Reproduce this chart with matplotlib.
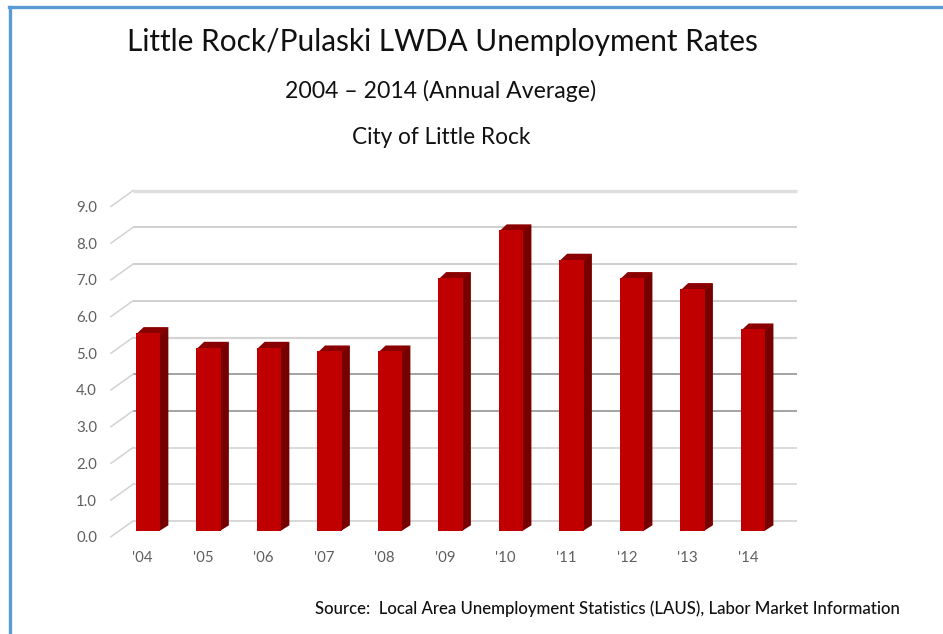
import matplotlib
matplotlib.use('Agg')
import matplotlib.pyplot as plt
from matplotlib.lines import Line2D

plt.rcParams['font.family'] = ['Lato', 'DejaVu Sans']

years = ["'04", "'05", "'06", "'07", "'08", "'09", "'10", "'11", "'12", "'13", "'14"]
rates = [5.4, 5.0, 5.0, 4.9, 4.9, 6.9, 8.2, 7.4, 6.9, 6.6, 5.5]
y_ticks = [0, 1, 2, 3, 4, 5, 6, 7, 8, 9]
grid_colors = ['#d6d6d6', '#d9d9d9', '#d9d9d9', '#9c9c9c', '#9c9c9c',
               '#d4d4d4', '#cfcfcf', '#cfcfcf', '#cfcfcf', '#dedede']
grid_widths = [1.3, 1.3, 1.3, 1.3, 1.3, 1.6, 1.4, 1.4, 1.4, 2.4]

W, H = 943, 634
fig = plt.figure(figsize=(W / 100, H / 100), dpi=100)
fig.patch.set_facecolor('white')

# front edge of the floor sits at y=536.7px, 36.7px per unit, 60.5px per category
ax = fig.add_axes([111 / W, (H - 536.7) / H, 664 / W, 330.3 / H])
ax.set_xlim(-0.524, 10.45)
ax.set_ylim(0, 9)
ax.patch.set_alpha(0)
for s in ax.spines.values():
    s.set_visible(False)

px_x = 1 / 60.5
px_y = 1 / 36.7

# oblique depth of the floor/back wall
depth_x = 22 * px_x
depth_y = 15.7 * px_y
x_left = -0.524
x_right = 10.45

for v, c, lw in zip(y_ticks, grid_colors, grid_widths):
    ax.plot([x_left + depth_x, x_right + depth_x], [v + depth_y, v + depth_y],
            color=c, lw=lw, solid_capstyle='butt', clip_on=False, zorder=1)
    ax.plot([x_left, x_left + depth_x], [v, v + depth_y],
            color='#d2d2d2', lw=1.1, clip_on=False, zorder=1)

# bars stand a little behind the front edge
bar_w = 24.7 * px_x
off_x = 5.3 * px_x
off_y = 5.4 * px_y
side_x = 8.0 * px_x
side_y = 6.0 * px_y
overlap = 1.5 * px_x  # keeps a white seam from showing next to the front face

for i, r in enumerate(rates):
    x0 = i + off_x - bar_w / 2
    x1 = x0 + bar_w
    bottom = off_y
    top = r + off_y
    ax.fill([x1 - overlap, x1 + side_x, x1 + side_x, x1 - overlap],
            [bottom, bottom + side_y, top + side_y, top],
            color='#760000', lw=0, clip_on=False, zorder=3)
    ax.fill([x0, x0 + side_x, x1 + side_x, x1],
            [top - 1.5 * px_y, top + side_y, top + side_y, top - 1.5 * px_y],
            color='#8a0000', lw=0, clip_on=False, zorder=3)

ax.bar([i + off_x for i in range(len(rates))], rates, width=bar_w, bottom=off_y,
       color='#c00000', linewidth=0, clip_on=False, zorder=4)

ax.set_yticks(y_ticks)
ax.set_yticklabels(['%.1f' % v for v in y_ticks])
ax.set_xticks(range(len(years)))
ax.set_xticklabels(years)
ax.tick_params(axis='y', length=0, pad=10, labelsize=10.8, labelcolor='#5f5f5f')
ax.tick_params(axis='x', length=0, pad=10.5, labelsize=10.8, labelcolor='#5f5f5f')

# titles and source, pixel positions from the picture
fig.text(442 / W, 1 - 41.5 / H, 'Little Rock/Pulaski LWDA Unemployment Rates',
         ha='center', va='center', fontsize=21.45, color='#111111')
fig.text(441 / W, 1 - 91 / H, '2004 \u2013 2014 (Annual Average)',
         ha='center', va='center', fontsize=16.6, color='#111111')
fig.text(441 / W, 1 - 138 / H, 'City of Little Rock',
         ha='center', va='center', fontsize=16.3, color='#111111')
fig.text(315 / W, 1 - 608.5 / H,
         'Source:  Local Area Unemployment Statistics (LAUS), Labor Market Information',
         ha='left', va='center', fontsize=12.05, color='#111111', fontweight='medium')

# blue frame of the pasted picture
frame = '#5b9bd5'
fig.add_artist(Line2D([10 / W, 10 / W], [0, 1 - 6.5 / H], color=frame, lw=2.4))
fig.add_artist(Line2D([8.5 / W, 1], [1 - 6.5 / H, 1 - 6.5 / H], color=frame, lw=2.4))

fig.savefig('out.png', dpi=100, facecolor='white')
